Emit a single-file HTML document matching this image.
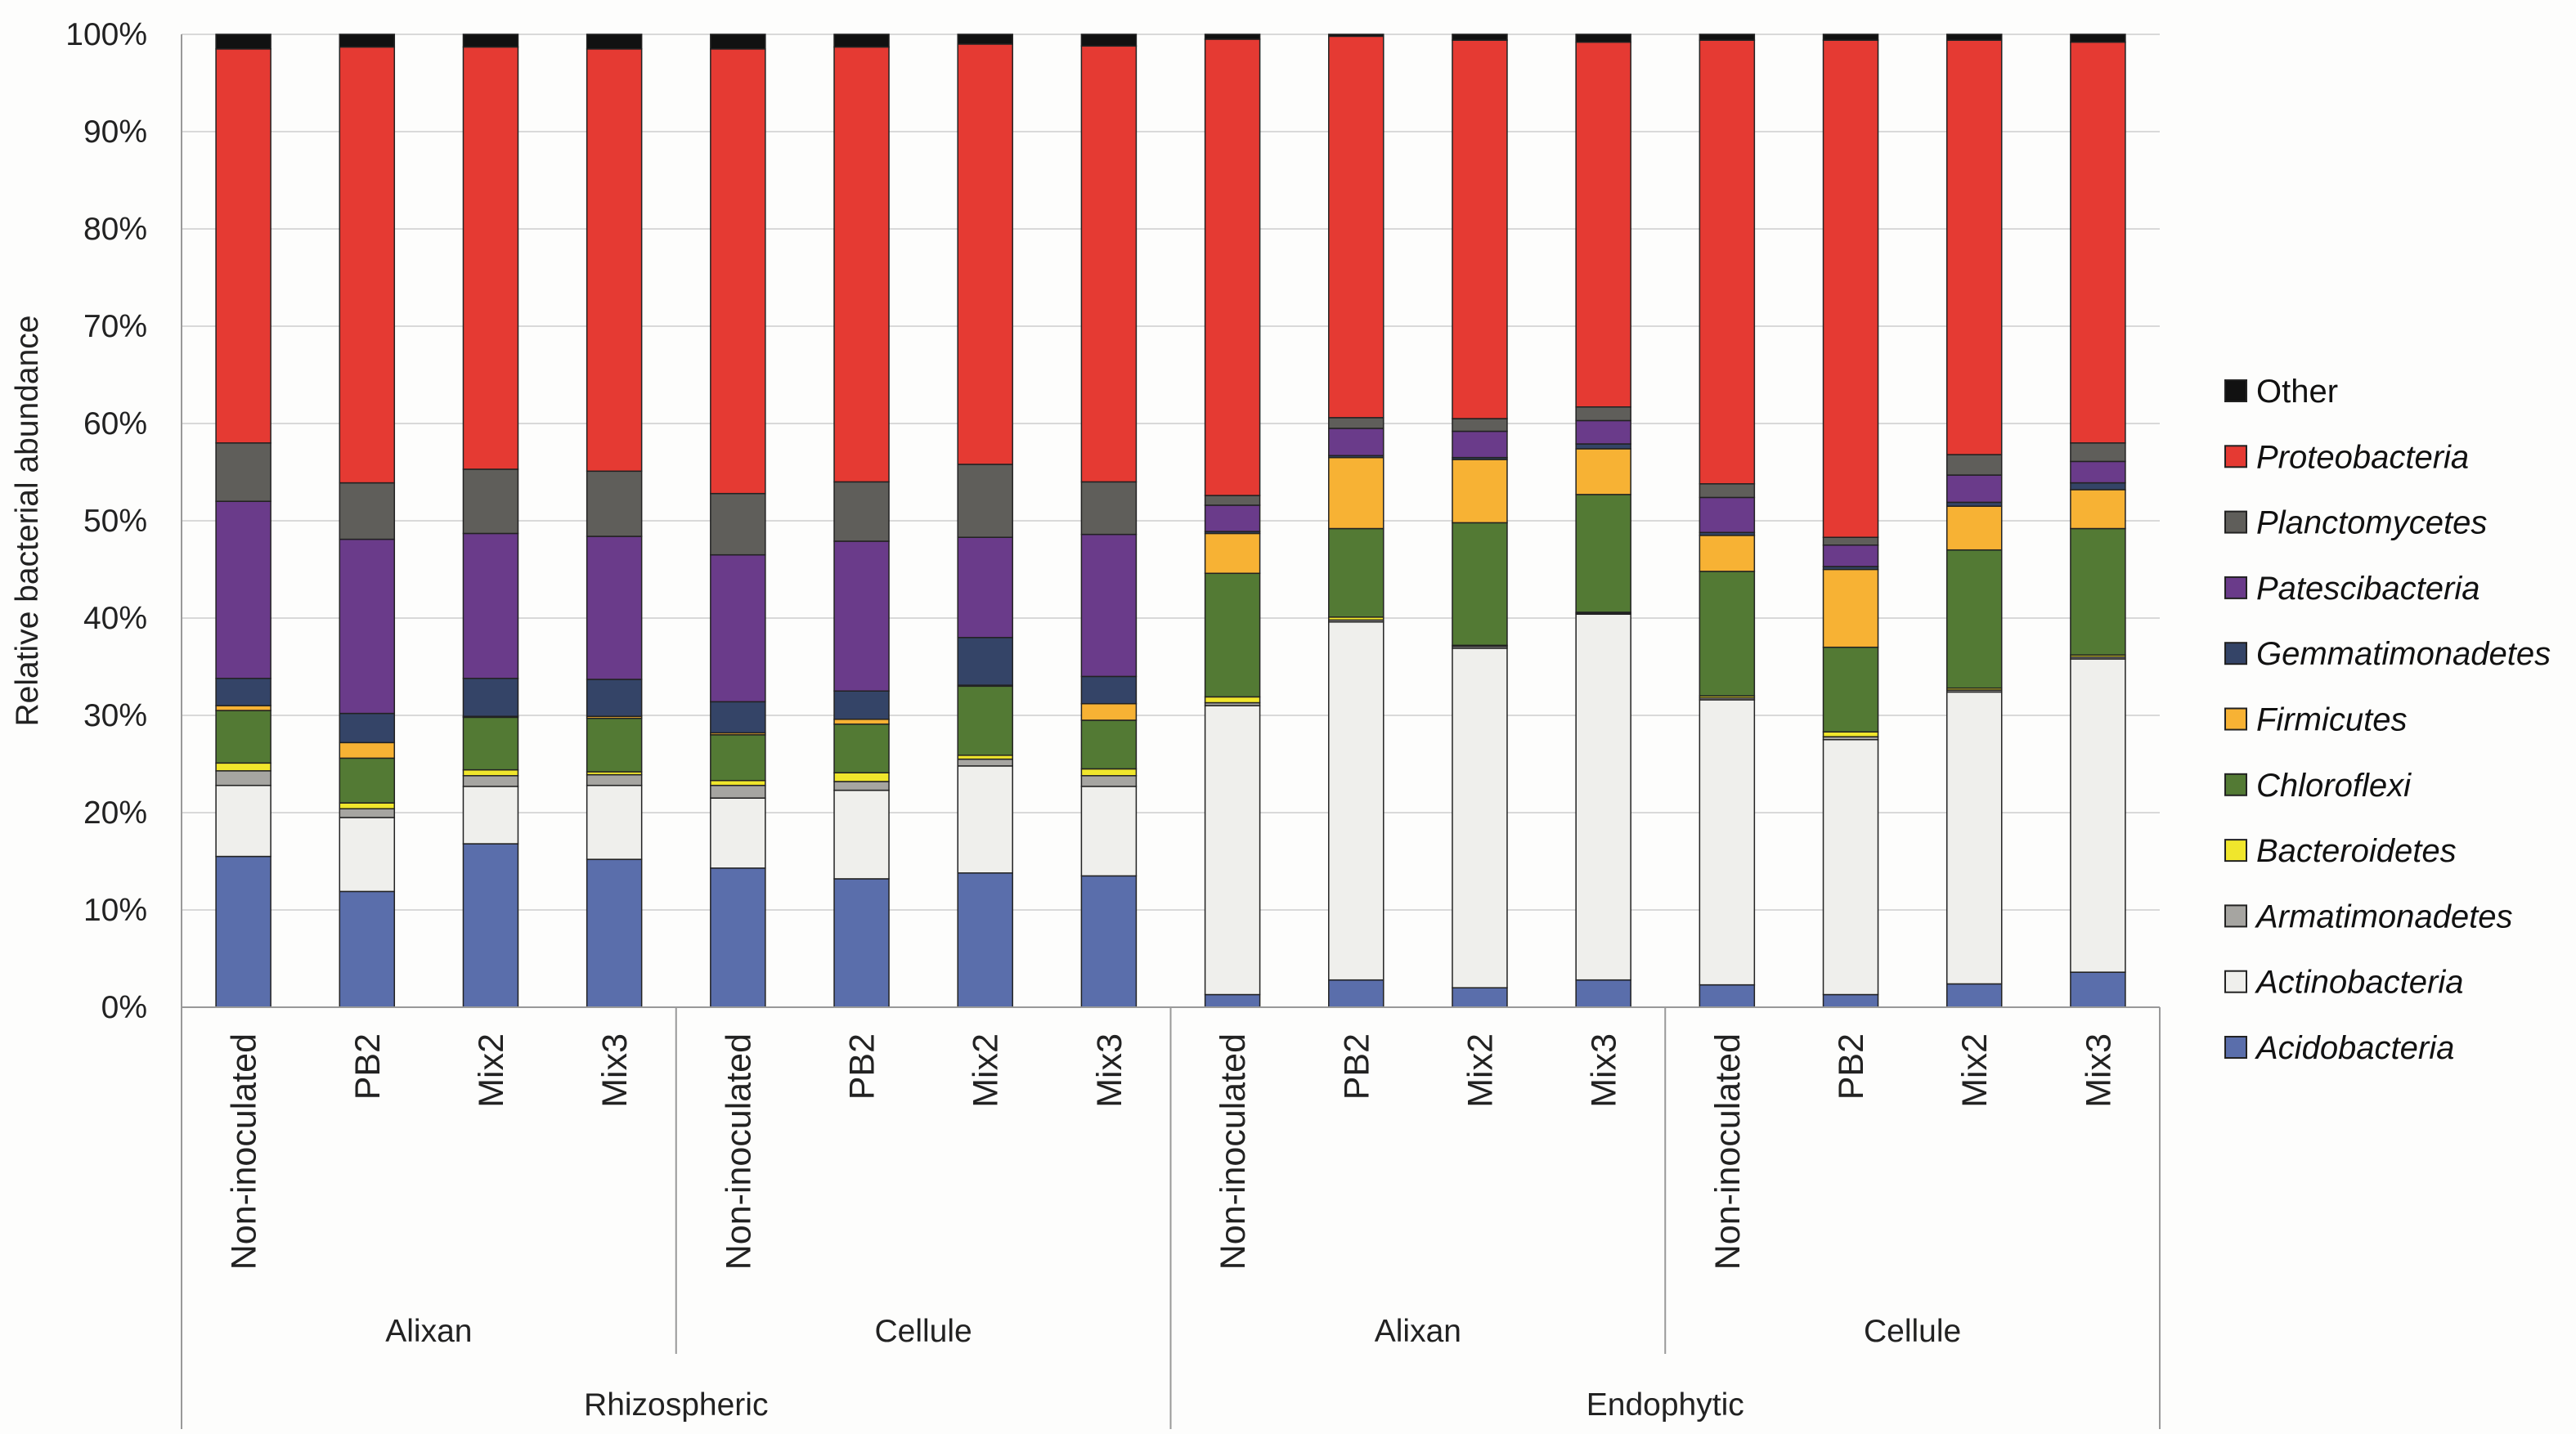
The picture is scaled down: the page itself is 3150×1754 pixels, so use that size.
<!DOCTYPE html>
<html><head><meta charset="utf-8"><style>
html,body{margin:0;padding:0;background:#fdfdfc;}
svg{display:block;font-family:"Liberation Sans",sans-serif;}
</style></head><body>
<svg id="chart" width="3150" height="1754" viewBox="0 0 3150 1754"></svg>
<script>
const categories=["Non-inoculated","PB2","Mix2","Mix3","Non-inoculated","PB2","Mix2","Mix3","Non-inoculated","PB2","Mix2","Mix3","Non-inoculated","PB2","Mix2","Mix3"];
const subgroups=["Alixan","Cellule","Alixan","Cellule"];
const groups=["Rhizospheric","Endophytic"];
const seriesNames=["Acidobacteria","Actinobacteria","Armatimonadetes","Bacteroidetes","Chloroflexi","Firmicutes","Gemmatimonadetes","Patescibacteria","Planctomycetes","Proteobacteria","Other"];
const seriesColors=["#5a6eab","#efefec","#a6a5a1","#f0e62c","#537a34","#f7b234","#344467","#6a3b8a","#5f5e5a","#e53a33","#111111"];
const acidobacteria=[15.5,11.9,16.8,15.2,14.3,13.2,13.8,13.5,1.3,2.8,2.0,2.8,2.3,1.3,2.4,3.6];
const actinobacteria=[7.3,7.6,5.9,7.6,7.2,9.1,11.0,9.2,29.7,36.8,34.9,37.6,29.3,26.2,30.0,32.2];
const armatimonadetes=[1.5,0.9,1.1,1.1,1.3,0.9,0.7,1.1,0.3,0.2,0.2,0.1,0.2,0.3,0.2,0.2];
const bacteroidetes=[0.8,0.6,0.6,0.3,0.5,0.9,0.4,0.7,0.6,0.3,0.1,0.1,0.2,0.5,0.2,0.2];
const chloroflexi=[5.4,4.6,5.4,5.5,4.7,5.0,7.1,5.0,12.7,9.1,12.6,12.1,12.8,8.7,14.2,13.0];
const firmicutes=[0.5,1.6,0.1,0.2,0.2,0.5,0.1,1.7,4.1,7.3,6.5,4.7,3.7,8.0,4.5,4.0];
const gemmatimonadetes=[2.8,3.0,3.9,3.8,3.2,2.9,4.9,2.8,0.2,0.2,0.2,0.5,0.3,0.3,0.4,0.7];
const patescibacteria=[18.2,17.9,14.9,14.7,15.1,15.4,10.3,14.6,2.7,2.8,2.7,2.4,3.6,2.2,2.8,2.2];
const planctomycetes=[6.0,5.8,6.6,6.7,6.3,6.1,7.5,5.4,1.0,1.1,1.3,1.4,1.4,0.8,2.1,1.9];
const proteobacteria=[40.5,44.8,43.4,43.4,45.7,44.7,43.2,44.8,46.9,39.2,38.9,37.5,45.6,51.1,42.6,41.2];
const other=[1.5,1.3,1.3,1.5,1.5,1.3,1.0,1.2,0.5,0.2,0.6,0.8,0.6,0.6,0.6,0.8];
const yTicks=[0,10,20,30,40,50,60,70,80,90,100];
const seriesValues=[acidobacteria,actinobacteria,armatimonadetes,bacteroidetes,chloroflexi,firmicutes,gemmatimonadetes,patescibacteria,planctomycetes,proteobacteria,other];

const NS="http://www.w3.org/2000/svg";
const svg=document.getElementById('chart');
const L=222,R=2641,T=42,B=1232;
const slot=(R-L)/categories.length, bw=67;
const y=v=>B-(B-T)*v/100;
const xc=i=>L+slot*(i+0.5);
function mk(tag,attrs,parent){const e=document.createElementNS(NS,tag);for(const k in attrs)e.setAttribute(k,attrs[k]);(parent||svg).appendChild(e);return e;}

yTicks.forEach(t=>{
  const g=mk('line',{x1:L,x2:R,y1:y(t),y2:y(t),stroke:'#d9d9d9','stroke-width':2});
  
  
  const tx=mk('text',{x:180,y:y(t)+13,'text-anchor':'end','font-size':39,fill:'#222'});
  tx.textContent=t+'%';
  
  
});
const yt=mk('text',{x:0,y:0,transform:'translate(46,637) rotate(-90)','text-anchor':'middle','font-size':39,fill:'#222'});
yt.textContent='Relative bacterial abundance';



categories.forEach((c,i)=>{
  let cum=0;
  seriesValues.forEach((arr,s)=>{
    const v=arr[i];
    const r=mk('rect',{x:xc(i)-bw/2,y:y(cum+v),width:bw,height:y(cum)-y(cum+v),fill:seriesColors[s],stroke:'#222','stroke-width':1.5});
    
    
    cum+=v;
  });
  const tx=mk('text',{x:0,y:0,transform:`translate(${xc(i)+15},1264) rotate(-90)`,'text-anchor':'end','font-size':43,fill:'#222'});
  tx.textContent=c;
  
  
});

const ax=mk('line',{x1:L,x2:L,y1:T,y2:B,stroke:'#999','stroke-width':2});


const xa=mk('line',{x1:L,x2:R,y1:B,y2:B,stroke:'#999','stroke-width':2});


for(let k=0;k<=4;k++){
  const x=L+slot*4*k;
  const long=(k%2===0);
  const l=mk('line',{x1:x,x2:x,y1:B,y2:long?1748:1656,stroke:'#999','stroke-width':2});
  
  
}
subgroups.forEach((s,k)=>{
  const tx=mk('text',{x:L+slot*(4*k+2),y:1641,'text-anchor':'middle','font-size':39,fill:'#222'});
  tx.textContent=s;
  
  
});
groups.forEach((g,k)=>{
  const tx=mk('text',{x:L+slot*(8*k+4),y:1731,'text-anchor':'middle','font-size':39,fill:'#222'});
  tx.textContent=g;
  
  
});

for(let j=0;j<seriesNames.length;j++){
  const s=seriesNames.length-1-j;
  const yy=478+j*80.3;
  const g=mk('g',{});
  
  
  mk('rect',{x:2721,y:yy-13,width:26,height:26,fill:seriesColors[s],stroke:'#222','stroke-width':2},g);
  const tx=mk('text',{x:2759,y:yy+14,'font-size':40,fill:'#111','font-style':s===10?'normal':'italic'},g);
  tx.textContent=seriesNames[s];
}
</script>
</body></html>
